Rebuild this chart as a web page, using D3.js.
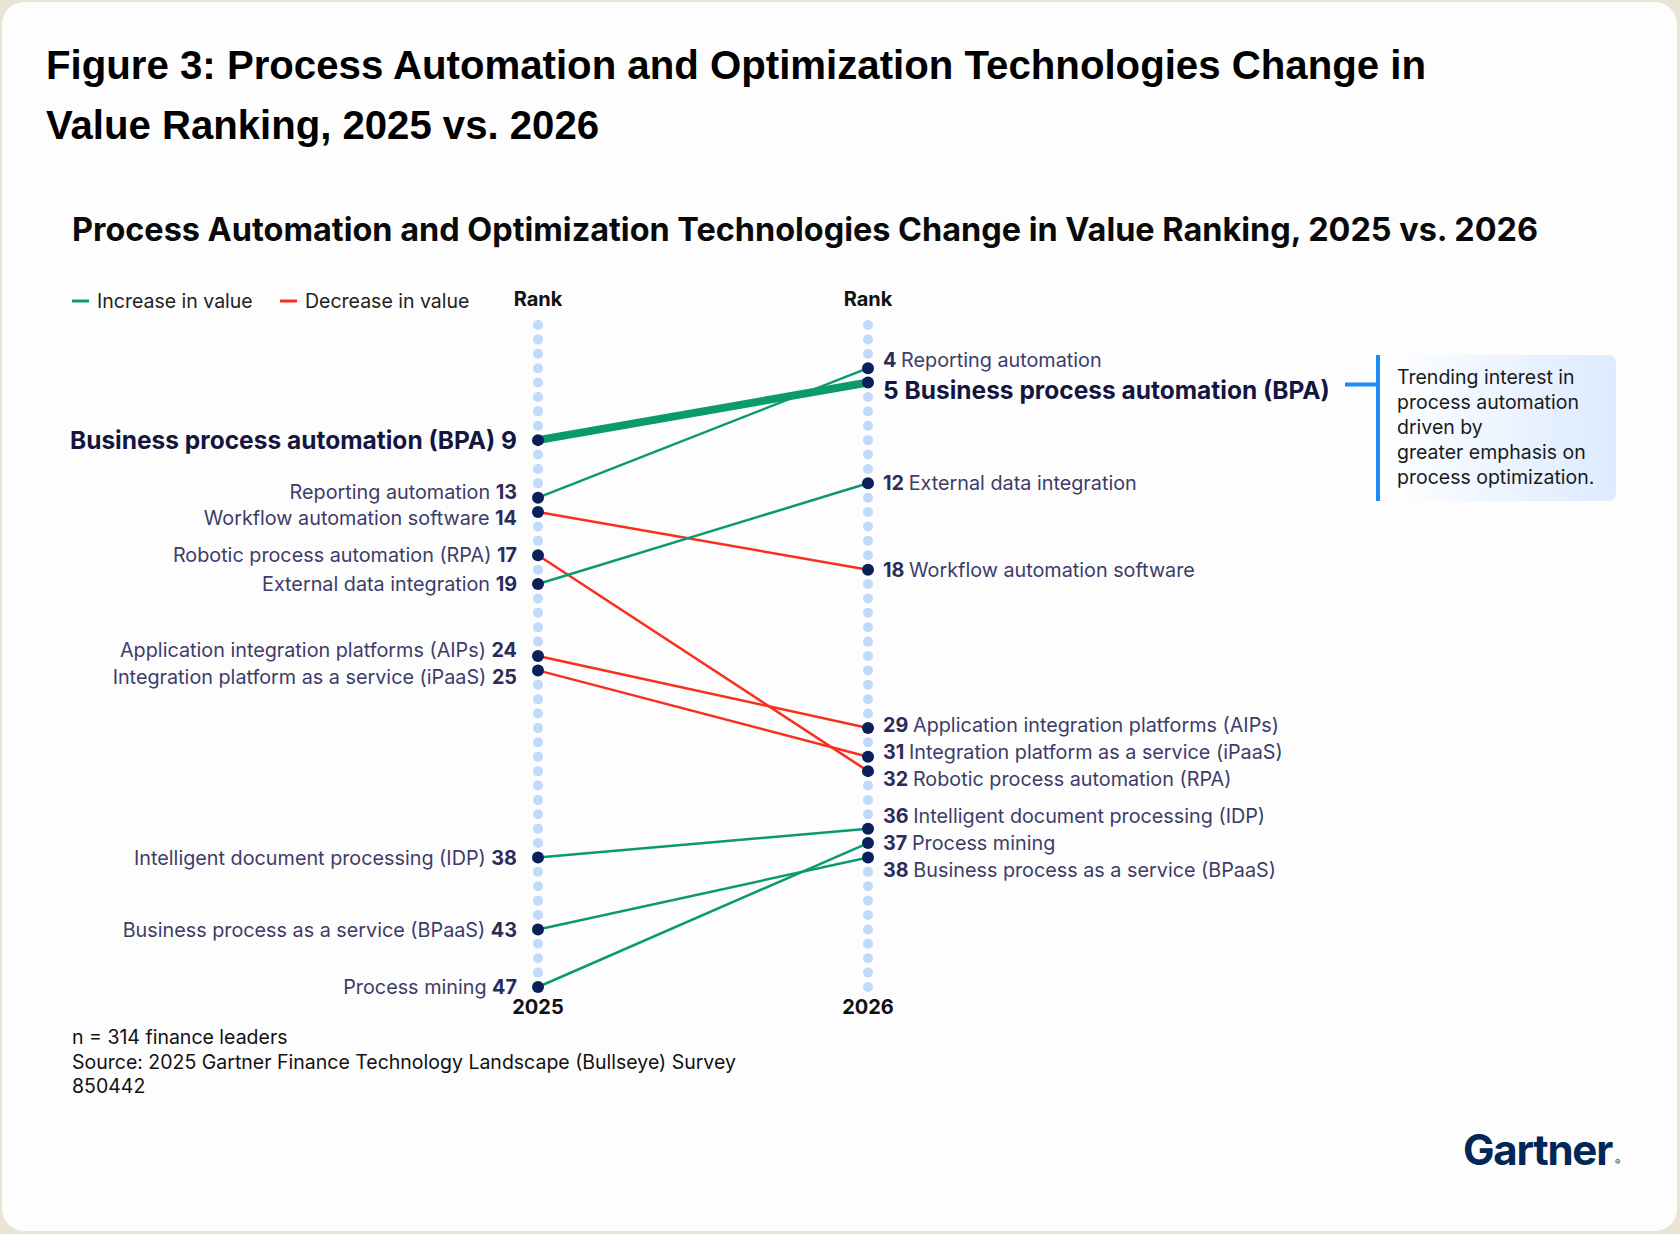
<!DOCTYPE html>
<html>
<head>
<meta charset="utf-8">
<script src="https://cdn.jsdelivr.net/npm/d3@7"></script>
<style>
  body { margin: 0; background: #ebe3d3; }
  svg { display: block; }
</style>
</head>
<body>
<div id="chart"></div>
<script>
// technologies, in the order they appear on the 2025 side
const technologies = [
  "Business process automation (BPA)",
  "Reporting automation",
  "Workflow automation software",
  "Robotic process automation (RPA)",
  "External data integration",
  "Application integration platforms (AIPs)",
  "Integration platform as a service (iPaaS)",
  "Intelligent document processing (IDP)",
  "Business process as a service (BPaaS)",
  "Process mining"
];
const rank2025 = [9, 13, 14, 17, 19, 24, 25, 38, 43, 47];
const rank2026 = [5, 4, 18, 32, 12, 29, 31, 36, 38, 37];
const highlighted = ["Business process automation (BPA)"];
const years = ["2025", "2026"];
const legendItems = ["Increase in value", "Decrease in value"];
const noteLines = [
  "Trending interest in",
  "process automation",
  "driven by",
  "greater emphasis on",
  "process optimization."
];
const footLines = [
  "n = 314 finance leaders",
  "Source: 2025 Gartner Finance Technology Landscape (Bullseye) Survey",
  "850442"
];

const W = 1680, H = 1234;
const green = "#0a9a6e", red = "#fa2e1c", navy = "#0b1f5b";
const labelFont = "Inter, 'Noto Sans', sans-serif";

const svg = d3.select("#chart").append("svg")
    .attr("width", W)
    .attr("height", H);

// card background
svg.append("rect")
    .attr("x", 2).attr("y", 2)
    .attr("width", W - 5).attr("height", H - 5)
    .attr("rx", 22)
    .attr("fill", "#fdfdfe");

// figure title
const title = svg.append("g")
    .attr("font-family", "'Liberation Sans', Arial, sans-serif")
    .attr("font-weight", "bold")
    .attr("font-size", 41)
    .attr("fill", "#000");
title.append("text").attr("x", 46).attr("y", 79)
    .attr("textLength", 1380).attr("lengthAdjust", "spacingAndGlyphs")
    .text("Figure 3: Process Automation and Optimization Technologies Change in");
title.append("text").attr("x", 46).attr("y", 139)
    .attr("textLength", 553).attr("lengthAdjust", "spacingAndGlyphs")
    .text("Value Ranking, 2025 vs. 2026");

// chart title
svg.append("text")
    .attr("x", 72).attr("y", 241)
    .attr("font-family", labelFont)
    .attr("font-weight", 700)
    .attr("font-size", 32)
    .attr("fill", "#0a0a0a")
    .attr("textLength", 1466).attr("lengthAdjust", "spacingAndGlyphs")
    .text("Process Automation and Optimization Technologies Change in Value Ranking, 2025 vs. 2026");

// legend
const legendX = [72, 280];
const legend = svg.append("g").attr("font-family", labelFont).attr("font-size", 19.5).attr("fill", "#222");
legendItems.forEach(function(t, i) {
  legend.append("line")
      .attr("x1", legendX[i]).attr("x2", legendX[i] + 17)
      .attr("y1", 301).attr("y2", 301)
      .attr("stroke", i == 0 ? green : red)
      .attr("stroke-width", 3);
  legend.append("text")
      .attr("x", legendX[i] + 25).attr("y", 308)
      .text(t);
});

// scales
const x = d3.scalePoint().domain(years).range([538, 868]);
const y = d3.scaleLinear().domain([1, 47]).range([325, 987]);
const ranks = d3.range(1, 48);

const data = technologies.map(function(name, i) {
  return { name: name, r0: rank2025[i], r1: rank2026[i], hi: highlighted.includes(name) };
});

// column headers and year labels
years.forEach(function(yr) {
  svg.append("text")
      .attr("x", x(yr)).attr("y", 306)
      .attr("text-anchor", "middle")
      .attr("font-family", labelFont).attr("font-weight", 700).attr("font-size", 20)
      .attr("fill", "#111")
      .text("Rank");
  svg.append("text")
      .attr("x", x(yr)).attr("y", y(47) + 27)
      .attr("text-anchor", "middle")
      .attr("font-family", labelFont).attr("font-weight", 700).attr("font-size", 20)
      .attr("fill", "#111")
      .text(yr);
  // light dotted rank column
  svg.append("g").selectAll("circle")
      .data(ranks)
      .enter().append("circle")
      .attr("cx", x(yr))
      .attr("cy", d => y(d))
      .attr("r", 5)
      .attr("fill", "#bfdafb");
});

// connecting lines
svg.append("g").selectAll("line")
    .data(data)
    .enter().append("line")
    .attr("x1", x("2025")).attr("y1", d => y(d.r0))
    .attr("x2", x("2026")).attr("y2", d => y(d.r1))
    .attr("stroke", d => d.r1 < d.r0 ? green : red)
    .attr("stroke-width", d => d.hi ? 8 : 2.5);

// dark rank dots
years.forEach(function(yr, k) {
  svg.append("g").selectAll("circle")
      .data(data)
      .enter().append("circle")
      .attr("cx", x(yr))
      .attr("cy", d => y(k == 0 ? d.r0 : d.r1))
      .attr("r", 6)
      .attr("fill", navy);
});

// push labels apart so they don't overlap, keeping clusters centred
function spread(list) {
  list.sort((a, b) => a.target - b.target);
  list.forEach(d => d.pos = d.target);
  for (let it = 0; it < 200; it++) {
    for (let i = 1; i < list.length; i++) {
      let gap = 0.68 * (list[i].size + list[i - 1].size);
      let over = gap - (list[i].pos - list[i - 1].pos);
      if (over > 0) {
        list[i - 1].pos -= over / 2;
        list[i].pos += over / 2;
      }
    }
  }
  return list;
}

function labelSet(k) {
  return spread(data.map(d => ({
    d: d,
    rank: k == 0 ? d.r0 : d.r1,
    target: y(k == 0 ? d.r0 : d.r1),
    size: d.hi ? 24.5 : 19.8
  })));
}

// 2025 labels: name then rank, right aligned
const left = svg.append("g").attr("font-family", labelFont);
labelSet(0).forEach(function(l) {
  let t = left.append("text")
      .attr("x", x("2025") - 21)
      .attr("y", l.pos)
      .attr("dy", "0.36em")
      .attr("text-anchor", "end")
      .attr("font-size", l.size);
  t.append("tspan")
      .attr("font-weight", l.d.hi ? 700 : 400)
      .attr("fill", l.d.hi ? "#14163f" : "#3d3c68")
      .text(l.d.name + " ");
  t.append("tspan")
      .attr("font-weight", 700)
      .attr("fill", l.d.hi ? "#14163f" : "#2c2b5a")
      .text(l.rank);
});

// 2026 labels: rank then name
const right = svg.append("g").attr("font-family", labelFont);
labelSet(1).forEach(function(l) {
  let t = right.append("text")
      .attr("x", x("2026") + 15)
      .attr("y", l.pos)
      .attr("dy", "0.36em")
      .attr("font-size", l.size);
  t.append("tspan")
      .attr("font-weight", 700)
      .attr("fill", l.d.hi ? "#14163f" : "#2c2b5a")
      .text(l.rank + " ");
  t.append("tspan")
      .attr("font-weight", l.d.hi ? 700 : 400)
      .attr("fill", l.d.hi ? "#14163f" : "#3d3c68")
      .text(l.d.name);
});

// annotation for BPA
const defs = svg.append("defs");
const grad = defs.append("linearGradient").attr("id", "noteFill")
    .attr("x1", "0%").attr("x2", "100%").attr("y1", "0%").attr("y2", "0%");
grad.append("stop").attr("offset", "0%").attr("stop-color", "#ffffff");
grad.append("stop").attr("offset", "100%").attr("stop-color", "#dcebff");

const noteTop = 355, noteBottom = 501, barX = 1378;
svg.append("rect")
    .attr("x", barX).attr("y", noteTop)
    .attr("width", 238).attr("height", noteBottom - noteTop)
    .attr("rx", 8)
    .attr("fill", "url(#noteFill)");
svg.append("line")
    .attr("x1", 1345).attr("x2", barX)
    .attr("y1", y(5) + 2).attr("y2", y(5) + 2)
    .attr("stroke", "#1d8cf8").attr("stroke-width", 4);
svg.append("line")
    .attr("x1", barX).attr("x2", barX)
    .attr("y1", noteTop).attr("y2", noteBottom)
    .attr("stroke", "#1d8cf8").attr("stroke-width", 4);
svg.append("g").selectAll("text")
    .data(noteLines)
    .enter().append("text")
    .attr("x", 1397)
    .attr("y", (d, i) => 384 + i * 25)
    .attr("font-family", labelFont)
    .attr("font-size", 19.5)
    .attr("fill", "#1a1a1a")
    .text(d => d);

// footnote
svg.append("g").selectAll("text")
    .data(footLines)
    .enter().append("text")
    .attr("x", 72)
    .attr("y", (d, i) => 1044 + i * 24.5)
    .attr("font-family", labelFont)
    .attr("font-size", 19.5)
    .attr("fill", "#111")
    .text(d => d);

// logo, one text element with the registered mark as a small tspan
const logo = svg.append("text")
    .attr("x", 1463).attr("y", 1165)
    .attr("font-family", labelFont).attr("font-weight", 700)
    .attr("font-size", 42)
    .attr("letter-spacing", -1.2)
    .attr("fill", "#002856");
logo.append("tspan").text("Gartner");
logo.append("tspan")
    .attr("font-size", 8).attr("font-weight", 400)
    .attr("letter-spacing", 0)
    .attr("dx", 3)
    .text("®");
</script>
</body>
</html>
